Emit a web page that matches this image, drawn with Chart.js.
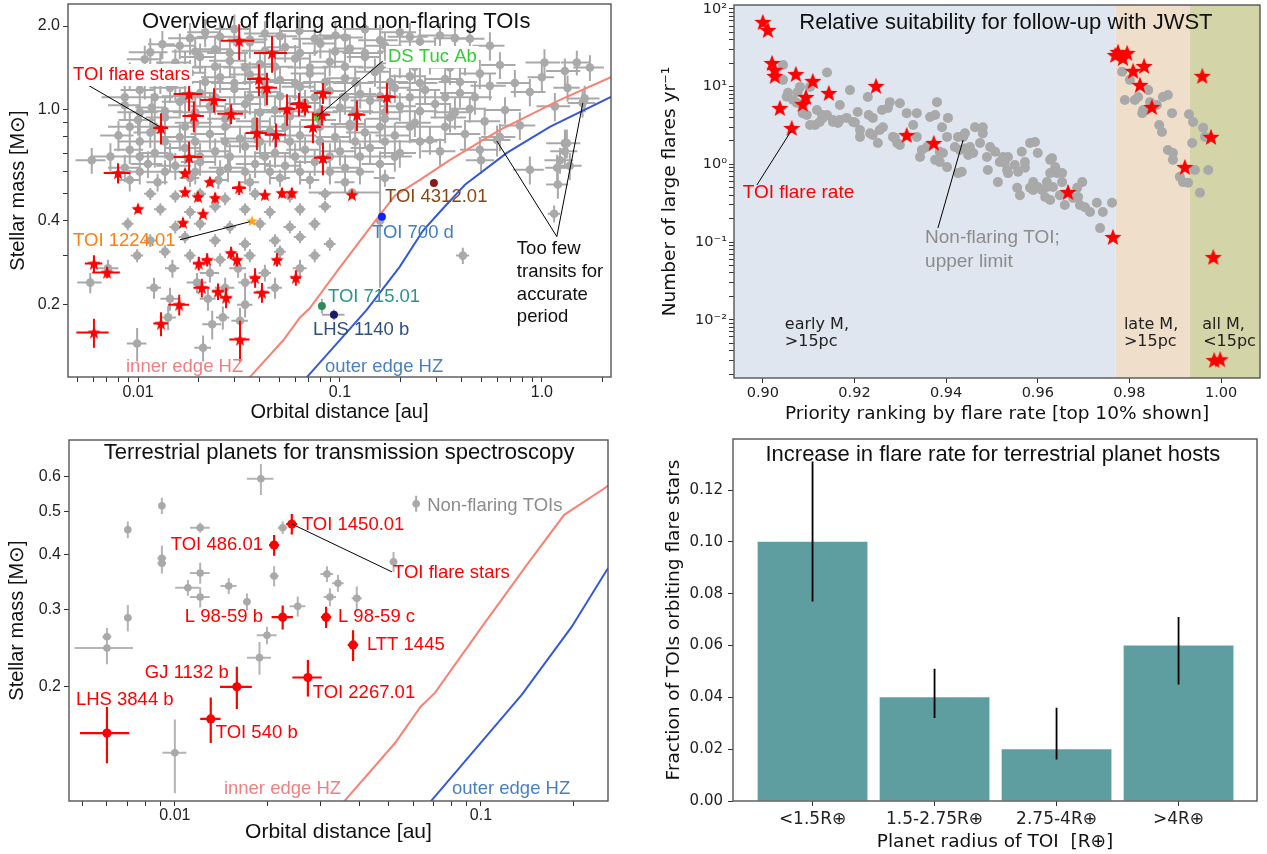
<!DOCTYPE html>
<html>
<head>
<meta charset="utf-8">
<title>TOI flare stars</title>
<script src="https://cdn.jsdelivr.net/npm/chart.js@4.4.1/dist/chart.umd.min.js"></script>
<style>
  body { margin: 0; background: #fff; }
  .panel { position: absolute; }
</style>
</head>
<body>
<canvas id="overview" class="panel" width="633" height="427" style="left:0;top:0"></canvas>
<canvas id="priority" class="panel" width="627" height="427" style="left:640px;top:0"></canvas>
<canvas id="terrestrial" class="panel" width="633" height="427" style="left:0;top:427px"></canvas>
<canvas id="fraction" class="panel" width="627" height="427" style="left:640px;top:427px"></canvas>
<script>
// ---- overview panel: [orbital distance au, stellar mass Msun, a err, M err]
const quietA = [
  [0.0215,1.90,0.004,0.22],[0.030,1.95,0.006,0.25],[0.0425,1.88,0.009,0.20],[0.063,1.92,0.012,0.24],[0.095,1.85,0.018,0.22],
  [0.133,1.95,0.03,0.25],[0.198,1.90,0.04,0.22],[0.313,1.85,0.07,0.2],[0.44,1.80,0.08,0.2],
  [0.0181,1.81,0.004,0.24],[0.0255,1.83,0.006,0.22],[0.0358,1.79,0.008,0.24],[0.0505,1.84,0.011,0.22],[0.075,1.80,0.017,0.24],
  [0.106,1.82,0.024,0.22],[0.158,1.78,0.035,0.24],[0.222,1.83,0.05,0.22],[0.371,1.81,0.08,0.22],
  [0.0132,1.72,0.002,0.2],[0.0161,1.70,0.003,0.18],[0.0241,1.65,0.005,0.2],[0.0358,1.75,0.007,0.22],[0.0535,1.68,0.01,0.2],
  [0.080,1.73,0.015,0.2],[0.112,1.66,0.02,0.18],[0.167,1.70,0.035,0.2],[0.249,1.76,0.05,0.2],[0.371,1.64,0.07,0.18],[0.553,1.70,0.1,0.2],
  [0.0115,1.61,0.0025,0.2],[0.0192,1.62,0.0045,0.21],[0.0285,1.60,0.0065,0.2],[0.0425,1.63,0.01,0.21],[0.0634,1.60,0.014,0.2],
  [0.0946,1.62,0.021,0.21],[0.133,1.60,0.03,0.2],[0.198,1.62,0.045,0.21],[0.296,1.61,0.065,0.2],
  [0.0108,1.52,0.002,0.18],[0.0153,1.48,0.003,0.17],[0.0203,1.55,0.004,0.18],[0.0285,1.50,0.006,0.2],[0.0402,1.46,0.008,0.17],
  [0.060,1.53,0.012,0.18],[0.089,1.49,0.018,0.17],[0.133,1.55,0.025,0.18],[0.198,1.47,0.04,0.17],[0.279,1.52,0.05,0.18],
  [0.416,1.50,0.08,0.17],[0.62,1.45,0.12,0.16],[1.03,1.48,0.2,0.17],[1.49,1.48,0.25,0.15],[1.73,1.42,0.3,0.15],
  [0.0129,1.43,0.003,0.19],[0.0171,1.42,0.004,0.19],[0.0241,1.43,0.0055,0.19],[0.0339,1.42,0.0075,0.19],[0.0477,1.43,0.011,0.19],
  [0.071,1.42,0.016,0.19],[0.106,1.43,0.024,0.19],[0.158,1.42,0.035,0.19],[0.235,1.43,0.05,0.19],[0.351,1.42,0.075,0.19],
  [0.0091,1.33,0.0015,0.15],[0.0129,1.30,0.0025,0.16],[0.0181,1.36,0.0035,0.15],[0.0255,1.31,0.005,0.16],[0.0358,1.34,0.007,0.15],
  [0.0505,1.28,0.01,0.15],[0.071,1.35,0.014,0.16],[0.106,1.30,0.02,0.15],[0.149,1.37,0.03,0.16],[0.222,1.32,0.045,0.15],
  [0.332,1.29,0.065,0.15],[0.493,1.35,0.1,0.16],[0.735,1.25,0.14,0.14],[1.0,1.31,0.15,0.14],[1.30,1.38,0.25,0.15],
  [0.0108,1.26,0.0025,0.17],[0.0153,1.25,0.0035,0.17],[0.0215,1.26,0.005,0.17],[0.030,1.25,0.007,0.17],[0.0425,1.26,0.0095,0.17],
  [0.060,1.25,0.013,0.17],[0.0844,1.26,0.019,0.17],[0.119,1.25,0.027,0.17],[0.177,1.26,0.04,0.17],[0.249,1.25,0.055,0.17],[0.393,1.26,0.085,0.17],
  [0.0102,1.18,0.002,0.14],[0.0144,1.20,0.003,0.14],[0.0203,1.15,0.004,0.13],[0.030,1.19,0.006,0.14],[0.0425,1.16,0.008,0.13],
  [0.0634,1.21,0.012,0.14],[0.089,1.17,0.018,0.13],[0.126,1.14,0.025,0.13],[0.187,1.20,0.035,0.14],[0.264,1.18,0.05,0.13],
  [0.393,1.15,0.08,0.13],[0.553,1.22,0.11,0.14],[0.872,1.16,0.17,0.13],[1.34,1.20,0.2,0.13],[1.63,1.10,0.3,0.12],
  [0.0086,1.11,0.002,0.15],[0.0121,1.11,0.0028,0.15],[0.0171,1.12,0.004,0.15],[0.0241,1.11,0.0055,0.15],[0.0358,1.11,0.008,0.15],
  [0.0505,1.12,0.011,0.15],[0.075,1.11,0.017,0.15],[0.106,1.11,0.024,0.15],[0.158,1.12,0.035,0.15],[0.222,1.11,0.05,0.15],
  [0.332,1.11,0.07,0.15],[0.466,1.11,0.1,0.15],
  [0.0086,1.04,0.0015,0.12],[0.0117,1.02,0.002,0.12],[0.0161,1.07,0.003,0.12],[0.0227,1.03,0.0045,0.12],[0.0339,1.05,0.007,0.12],
  [0.0477,1.00,0.01,0.11],[0.0672,1.06,0.013,0.12],[0.10,1.02,0.02,0.12],[0.141,1.08,0.028,0.12],[0.198,1.03,0.04,0.12],
  [0.296,1.05,0.06,0.12],[0.44,1.01,0.09,0.11],[0.657,1.00,0.13,0.11],[1.16,1.03,0.22,0.12],[1.59,1.06,0.25,0.12],
  [0.0102,0.98,0.0023,0.13],[0.0136,0.99,0.003,0.13],[0.0192,0.98,0.0043,0.13],[0.0285,0.99,0.0065,0.13],[0.0402,0.98,0.009,0.13],
  [0.0565,0.99,0.013,0.13],[0.0796,0.98,0.018,0.13],[0.119,0.99,0.027,0.13],[0.167,0.98,0.037,0.13],[0.249,0.99,0.055,0.13],[0.371,0.98,0.08,0.13],
  [0.010,0.92,0.002,0.11],[0.0136,0.94,0.0027,0.11],[0.0192,0.90,0.004,0.1],[0.027,0.93,0.005,0.11],[0.038,0.91,0.0075,0.1],
  [0.0565,0.95,0.011,0.11],[0.0796,0.92,0.016,0.1],[0.112,0.89,0.022,0.1],[0.167,0.93,0.033,0.11],[0.235,0.90,0.047,0.1],
  [0.351,0.94,0.07,0.11],[0.521,0.91,0.1,0.1],[0.778,0.88,0.15,0.1],
  [0.0091,0.87,0.002,0.11],[0.0121,0.87,0.0027,0.11],[0.0171,0.87,0.004,0.11],[0.027,0.87,0.006,0.11],[0.038,0.87,0.0085,0.11],
  [0.0535,0.87,0.012,0.11],[0.0796,0.87,0.018,0.11],[0.112,0.87,0.025,0.11],[0.158,0.87,0.035,0.11],[0.222,0.87,0.05,0.11],[0.332,0.87,0.07,0.11],
  [0.0080,0.81,0.0015,0.1],[0.0115,0.83,0.002,0.1],[0.0161,0.80,0.003,0.09],[0.0227,0.82,0.0045,0.1],[0.032,0.79,0.0065,0.09],
  [0.045,0.84,0.009,0.1],[0.0634,0.81,0.013,0.1],[0.0946,0.80,0.019,0.09],[0.133,0.83,0.026,0.1],[0.187,0.81,0.037,0.09],
  [0.279,0.78,0.055,0.09],[0.416,0.82,0.08,0.1],[0.62,0.80,0.12,0.09],[0.60,0.78,0.1,0.1],[1.30,0.76,0.25,0.09],[1.33,0.76,0.2,0.09],
  [0.0102,0.77,0.0023,0.1],[0.0136,0.77,0.003,0.1],[0.0192,0.77,0.0043,0.1],[0.027,0.77,0.006,0.1],[0.0402,0.77,0.009,0.1],
  [0.0565,0.77,0.013,0.1],[0.0796,0.77,0.018,0.1],[0.119,0.77,0.027,0.1],[0.167,0.77,0.037,0.1],[0.249,0.77,0.055,0.1],
  [0.0091,0.72,0.0015,0.08],[0.0121,0.70,0.002,0.08],[0.0171,0.73,0.0034,0.09],[0.0241,0.71,0.0048,0.08],[0.0339,0.74,0.0068,0.09],
  [0.0477,0.70,0.0095,0.08],[0.0672,0.72,0.013,0.08],[0.10,0.71,0.02,0.08],[0.141,0.73,0.028,0.09],[0.198,0.70,0.04,0.08],
  [0.313,0.71,0.06,0.08],[0.493,0.72,0.1,0.08],[1.23,0.66,0.2,0.07],[1.30,0.71,0.2,0.08],
  [0.0073,0.68,0.0015,0.08],[0.0102,0.68,0.002,0.08],[0.0144,0.68,0.003,0.08],[0.0203,0.68,0.0045,0.08],[0.0285,0.68,0.0065,0.08],
  [0.0425,0.68,0.0095,0.08],[0.060,0.68,0.013,0.08],[0.0892,0.68,0.02,0.08],[0.1256,0.68,0.028,0.08],[0.187,0.68,0.04,0.08],
  [0.0059,0.66,0.001,0.07],[0.0086,0.62,0.0015,0.07],[0.0112,0.64,0.002,0.07],[0.0153,0.63,0.003,0.07],[0.0203,0.65,0.004,0.07],
  [0.0279,0.62,0.0055,0.07],[0.038,0.64,0.0075,0.07],[0.0535,0.63,0.011,0.07],[0.075,0.65,0.015,0.07],[0.106,0.62,0.02,0.07],
  [0.158,0.64,0.03,0.07],[0.50,0.66,0.08,0.07],[0.872,0.61,0.15,0.07],[1.19,0.62,0.15,0.07],[1.375,0.63,0.2,0.07],
  [0.0102,0.60,0.0018,0.06],[0.0136,0.60,0.0025,0.06],[0.0192,0.60,0.0035,0.06],[0.0255,0.60,0.0045,0.06],[0.0339,0.60,0.006,0.06],
  [0.045,0.60,0.008,0.06],[0.0634,0.60,0.011,0.06],[0.0892,0.60,0.016,0.06],[0.1256,0.60,0.022,0.06],
  [0.0091,0.56,0.0012,0.05],[0.0125,0.55,0.0015,0.04],[0.0181,0.57,0.002,0.04],[0.025,0.56,0.003,0.04],[0.0358,0.55,0.004,0.04],
  [0.0505,0.57,0.006,0.04],[0.071,0.56,0.008,0.04],[0.106,0.55,0.012,0.04],[0.167,0.57,0.02,0.04],[1.20,0.54,0.15,0.06],
  [0.0115,0.50,0.0008,0.025],[0.0153,0.49,0.001,0.025],[0.0203,0.50,0.0014,0.025],[0.027,0.48,0.0018,0.025],[0.038,0.50,0.0025,0.025],
  [0.0565,0.49,0.004,0.025],[0.0844,0.50,0.006,0.025],[0.115,0.505,0.045,0.006],[0.158,0.40,0.006,0.17],
  [0.0129,0.44,0.0009,0.022],[0.0181,0.43,0.0012,0.022],[0.0241,0.45,0.0016,0.022],[0.0339,0.44,0.0022,0.022],[0.045,0.43,0.003,0.022],
  [0.0634,0.44,0.004,0.022],[0.0844,0.45,0.006,0.022],[1.15,0.424,0.08,0.03],
  [0.0089,0.39,0.0006,0.02],[0.0153,0.38,0.001,0.02],[0.0203,0.39,0.0014,0.02],[0.0285,0.38,0.002,0.02],[0.0402,0.39,0.0027,0.02],
  [0.0565,0.38,0.004,0.02],[0.075,0.39,0.005,0.02],
  [0.0115,0.34,0.0008,0.018],[0.0171,0.35,0.0012,0.018],[0.0241,0.34,0.0016,0.018],[0.0339,0.33,0.0023,0.018],[0.0477,0.34,0.0032,0.018],
  [0.0634,0.35,0.0043,0.018],[0.0892,0.33,0.006,0.018],
  [0.0099,0.30,0.0007,0.016],[0.0136,0.31,0.0009,0.016],[0.0181,0.30,0.0012,0.016],[0.0255,0.29,0.0017,0.016],[0.0358,0.30,0.0024,0.016],
  [0.0505,0.31,0.0034,0.016],[0.075,0.30,0.005,0.016],[0.406,0.30,0.03,0.02],
  [0.0071,0.27,0.0009,0.02],[0.0148,0.27,0.0012,0.02],[0.0227,0.26,0.0025,0.02],[0.0313,0.27,0.003,0.02],[0.0425,0.26,0.003,0.018],[0.0634,0.27,0.005,0.02],
  [0.0058,0.24,0.0008,0.02],[0.0120,0.23,0.001,0.02],[0.0196,0.24,0.0022,0.02],[0.027,0.23,0.003,0.02],[0.0339,0.24,0.0025,0.02],[0.0477,0.23,0.004,0.02],
  [0.0144,0.21,0.0015,0.02],[0.0222,0.21,0.002,0.02],[0.0339,0.20,0.003,0.02],
  [0.0141,0.18,0.0013,0.018],[0.0233,0.17,0.0025,0.02],[0.0263,0.18,0.002,0.017],[0.032,0.175,0.003,0.02],
  [0.0099,0.145,0.0011,0.02],[0.021,0.14,0.002,0.015]
];
const flareA = [
  [0.0317,1.77,0.006,0.26],[0.0461,1.60,0.0086,0.24],[0.0397,1.29,0.005,0.17],[0.0435,1.20,0.0053,0.16],[0.0179,1.14,0.0029,0.15],
  [0.0238,1.086,0.0035,0.11],[0.0189,0.952,0.0023,0.12],[0.0289,0.968,0.0042,0.08],[0.0130,0.862,0.0011,0.11],[0.0388,0.827,0.0047,0.11],
  [0.0482,0.814,0.0058,0.08],[0.0547,1.008,0.0052,0.13],[0.0627,1.05,0.006,0.1],[0.0735,0.869,0.007,0.11],[0.0179,0.678,0.0029,0.09],
  [0.00796,0.594,0.0012,0.05],[0.0171,0.594,0.0008,0.02],[0.0227,0.552,0.001,0.02],[0.0171,0.508,0.0008,0.02],[0.0198,0.488,0.0009,0.02],
  [0.0241,0.484,0.001,0.02],[0.0317,0.525,0.0025,0.03],[0.0425,0.496,0.0018,0.02],[0.0516,0.504,0.002,0.02],[0.0578,0.504,0.002,0.02],
  [0.0824,1.15,0.008,0.1],[0.0671,1.025,0.005,0.07],[0.0814,0.96,0.008,0.08],[0.1214,0.96,0.012,0.12],[0.171,1.113,0.018,0.14],
  [0.0824,0.673,0.008,0.09],[0.1147,0.496,0.003,0.01],[0.0100,0.442,0.0005,0.015],[0.0167,0.394,0.0007,0.015],[0.0210,0.424,0.0008,0.015],
  [0.00605,0.281,0.0006,0.02],[0.00703,0.261,0.0011,0.012],[0.0200,0.281,0.0013,0.016],[0.0220,0.290,0.0013,0.016],[0.0289,0.307,0.0015,0.016],
  [0.0309,0.290,0.0015,0.016],[0.0488,0.290,0.0025,0.016],[0.0380,0.250,0.0022,0.02],[0.0605,0.250,0.0035,0.016],[0.0207,0.230,0.0019,0.018],
  [0.0249,0.223,0.0017,0.015],[0.0273,0.212,0.0018,0.018],[0.0411,0.221,0.0037,0.018],[0.0160,0.200,0.0019,0.017],[0.0130,0.171,0.0011,0.017],
  [0.00605,0.159,0.0011,0.019],[0.0320,0.150,0.0037,0.025]
];
// DS Tuc Ab, TOI 1224.01, TOI 4312.01, TOI 700 d, TOI 715.01, LHS 1140 b
const namedA = [[0.0769,0.944,0,0],[0.0367,0.40,0,0],[0.292,0.547,0,0],[0.1614,0.414,0,0],[0.0814,0.198,0.003,0.012],[0.0934,0.184,0.012,0.008]];
// habitable zone edges: [a au, M Msun]
const innerHZ = [[0.033,0.100],[0.0358,0.110],[0.0524,0.149],[0.0634,0.180],[0.0708,0.194],[0.100,0.272],[0.141,0.378],[0.187,0.492],[0.249,0.561],[0.351,0.662],[0.62,0.848],[1.23,1.086],[2.4,1.35]];
const outerHZ = [[0.063,0.100],[0.0687,0.110],[0.136,0.192],[0.198,0.274],[0.258,0.369],[0.313,0.431],[0.416,0.539],[0.671,0.701],[1.095,0.869],[2.4,1.15]];
const distTicksA = [0.005,0.006,0.007,0.008,0.009,0.01,0.02,0.03,0.04,0.05,0.06,0.07,0.08,0.09,0.1,0.2,0.3,0.4,0.5,0.6,0.7,0.8,0.9,1,2];
const distLabelsA = {0.01: '0.01', 0.1: '0.1', 1: '1.0'};
const massTicksA = [0.2,0.3,0.4,0.5,0.6,0.7,0.8,0.9,1,2];
const massLabelsA = {0.2: '0.2', 0.4: '0.4', 1: '1.0', 2: '2.0'};

// ---- priority panel: [priority ranking, large flares per yr]
const quietRank = [
  [0.9044,18.9],[0.9044,12.2],[0.9055,8.3],[0.9052,7.4],[0.9066,6.7],[0.9076,8.5],[0.9081,9.9],[0.9074,6.2],[0.9087,4.55],[0.9096,4.3],
  [0.9103,9.9],[0.9118,5.0],[0.9114,3.2],[0.9131,3.95],[0.9129,4.3],[0.9140,4.3],[0.9140,15.2],[0.9103,3.2],[0.9124,3.5],[0.9153,3.5],
  [0.9153,3.72],[0.9168,3.72],[0.9168,5.8],[0.9190,9.0],[0.9183,3.95],[0.9164,3.4],[0.9197,3.5],[0.9201,3.45],[0.9207,4.7],[0.9212,2.25],
  [0.9212,2.76],[0.9234,2.5],[0.9240,2.38],[0.9231,4.3],[0.9240,3.95],[0.9229,7.35],[0.9251,1.88],[0.9255,2.76],[0.9260,5.0],[0.9273,5.3],
  [0.9277,6.3],[0.9262,3.0],[0.9299,6.1],[0.9284,2.25],[0.9299,1.77],[0.9314,4.55],[0.9336,4.55],[0.9328,3.2],[0.9288,2.2],[0.9293,1.88],
  [0.9336,2.25],[0.9347,1.53],[0.9343,1.24],[0.9358,1.67],[0.9380,6.3],[0.9365,4.05],[0.9376,4.3],[0.9391,3.0],[0.9386,1.45],[0.9376,1.14],
  [0.9402,2.25],[0.9393,1.4],[0.9386,1.07],[0.9402,0.92],[0.9404,3.95],[0.9419,1.67],[0.9426,0.77],[0.9426,2.25],[0.9437,2.25],[0.9441,1.6],
  [0.9459,1.4],[0.9463,3.0],[0.9480,3.0],[0.9480,2.5],[0.9441,2.5],[0.9452,1.67],[0.9474,1.88],[0.9496,1.67],[0.9430,1.53],[0.9448,1.32],
  [0.9489,1.24],[0.9507,1.45],[0.9517,1.07],[0.9524,1.24],[0.9535,1.24],[0.9550,0.98],[0.9565,1.45],[0.9572,1.07],[0.9583,1.88],[0.9594,1.94],
  [0.9600,1.40],[0.9533,0.845],[0.9528,1.04],[0.9491,0.845],[0.9434,0.80],[0.9513,0.59],[0.9535,0.77],[0.9557,0.80],[0.9572,0.90],[0.9590,0.59],
  [0.9627,1.14],[0.9631,1.20],[0.9638,0.92],[0.9653,0.77],[0.9642,0.77],[0.9627,0.77],[0.9620,0.59],[0.9653,0.59],[0.9697,0.59],[0.9600,0.51],
  [0.9555,0.50],[0.9583,0.50],[0.9633,0.51],[0.9620,0.51],[0.9686,0.50],[0.9561,0.40],[0.9590,0.467],[0.9609,0.467],[0.9627,0.347],[0.9677,0.37],
  [0.9688,0.38],[0.9703,0.28],[0.9714,0.243],[0.9729,0.32],[0.9742,0.243],[0.9762,0.32],[0.9736,0.151],[0.9659,0.30],[0.9648,0.40],[0.9692,0.30],
  [0.9616,0.38],
  [0.9784,15.5],[0.9801,12.2],[0.9841,9.0],[0.9790,6.7],[0.9812,6.7],[0.9819,7.35],[0.9830,5.0],[0.9845,6.3],[0.9873,7.35],[0.9884,7.8],
  [0.9860,5.8],[0.9828,4.55],[0.9865,3.2],[0.9871,2.6],[0.9893,4.55],[0.9930,4.4],[0.9939,3.5],[0.9961,2.95],[0.9965,2.25],[0.9937,1.88],
  [0.9884,1.53],[0.9895,1.40],[0.9895,1.14],[0.9910,0.69],[0.9917,0.59],[0.9928,0.58],[0.9943,0.845],[0.9972,0.845],[0.9954,0.43]
];
const flareRank = [
  [0.9000,67.8],[0.9011,53.5],[0.9020,20.1],[0.9026,16.4],[0.9026,13.7],[0.9037,5.30],[0.9072,14.5],[0.9109,11.8],[0.9144,8.27],[0.9094,7.35],
  [0.9087,5.97],[0.9063,2.93],[0.9247,10.2],[0.9314,2.38],[0.9373,1.88],[0.9769,25.5],[0.9775,27.9],[0.9795,27.1],[0.9786,23.3],[0.9832,18.4],
  [0.9808,15.9],[0.9823,10.5],[0.9849,5.46],[0.9959,13.7],[0.9978,2.25],[0.9921,0.923],[0.9666,0.44],[0.9764,0.116],[0.9983,0.0641],
  [0.9985,0.00303],[0.9998,0.0031]
];
const typeEdges = [0.977, 0.9932];   // early M >15pc | late M >15pc | all M <15pc
const rankTicks = [0.9,0.92,0.94,0.96,0.98,1];
const rankLabels = {0.9: '0.90', 0.92: '0.92', 0.94: '0.94', 0.96: '0.96', 0.98: '0.98', 1: '1.00'};
const rateTicks = [0.002,0.003,0.004,0.005,0.006,0.007,0.008,0.009,0.01,0.02,0.03,0.04,0.05,0.06,0.07,0.08,0.09,
  0.1,0.2,0.3,0.4,0.5,0.6,0.7,0.8,0.9,1,2,3,4,5,6,7,8,9,10,20,30,40,50,60,70,80,90,100];
const rateLabels = {0.01: '10\u207B\u00B2', 0.1: '10\u207B\u00B9', 1: '10\u2070', 10: '10\u00B9', 100: '10\u00B2'};

// ---- terrestrial panel: [a au, M Msun, a err, M err]
const quietC = [
  [0.0191,0.594,0.0019,0.048],[0.00907,0.516,0.0002,0.022],[0.00702,0.455,0.00015,0.02],[0.00907,0.392,0.0003,0.027],[0.00907,0.382,0.0003,0.02],
  [0.0121,0.46,0.0009,0.012],[0.0225,0.46,0.0008,0.015],[0.0121,0.363,0.0009,0.02],[0.0211,0.357,0.0007,0.019],[0.01103,0.336,0.001,0.014],
  [0.015,0.339,0.0009,0.014],[0.0121,0.32,0.0009,0.017],[0.0172,0.312,0.0005,0.014],[0.0252,0.305,0.0015,0.016],[0.00702,0.287,0.0002,0.02],
  [0.006,0.26,0.0002,0.012],[0.006,0.245,0.0013,0.02],[0.020,0.262,0.0015,0.012],[0.0189,0.233,0.0017,0.02],[0.010,0.1416,0.0009,0.027],
  [0.0518,0.385,0.0015,0.02],[0.0314,0.361,0.0015,0.015],[0.0341,0.344,0.0015,0.015],[0.0321,0.32,0.0015,0.015],[0.0393,0.318,0.0015,0.02]
];
// TOI 1450.01, TOI 486.01, L 98-59 b, L 98-59 c, LTT 1445, GJ 1132 b, TOI 2267.01, TOI 540 b, LHS 3844 b
const flareC = [
  [0.0241,0.469,0.001,0.025],[0.0211,0.42,0.0008,0.023],[0.0225,0.288,0.0018,0.018],[0.0312,0.288,0.0012,0.016],[0.0382,0.249,0.0015,0.02],
  [0.01594,0.2,0.0019,0.022],[0.0272,0.21,0.003,0.02],[0.0131,0.169,0.001,0.02],[0.006,0.157,0.0011,0.023]
];
const distTicksC = [0.005,0.006,0.007,0.008,0.009,0.01,0.02,0.03,0.04,0.05,0.06,0.07,0.08,0.09,0.1,0.2];
const distLabelsC = {0.01: '0.01', 0.1: '0.1'};
const massTicksC = [0.2,0.3,0.4,0.5,0.6];
const massLabelsC = {0.2: '0.2', 0.3: '0.3', 0.4: '0.4', 0.5: '0.5', 0.6: '0.6'};

// ---- fraction panel
const radiusBins = ['<1.5R\u2295', '1.5-2.75R\u2295', '2.75-4R\u2295', '>4R\u2295'];
const flareFraction = [0.10, 0.04, 0.02, 0.06];
const fractionLow = [0.077, 0.032, 0.016, 0.045];
const fractionHigh = [0.131, 0.051, 0.036, 0.071];
const fracTicks = [0, 0.02, 0.04, 0.06, 0.08, 0.1, 0.12];
const fracLabels = {0: '0.00', 0.02: '0.02', 0.04: '0.04', 0.06: '0.06', 0.08: '0.08', 0.1: '0.10', 0.12: '0.12'};

const GRAY = '#a9a9a9';
const ARIAL = '"Liberation Sans", Arial, sans-serif';
const DEJAVU = '"DejaVu Sans", sans-serif';
Chart.defaults.font.family = ARIAL;
Chart.defaults.color = '#222';

function starImage(size, color) {
  const c = document.createElement('canvas');
  c.width = c.height = size;
  const g = c.getContext('2d');
  const r = size / 2;
  g.beginPath();
  for (let i = 0; i < 10; i++) {
    const ang = -Math.PI / 2 + i * Math.PI / 5;
    const rr = i % 2 ? r * 0.42 : r;
    g.lineTo(r + rr * Math.cos(ang), r * 1.08 + rr * Math.sin(ang));
  }
  g.closePath();
  g.fillStyle = color;
  g.fill();
  return c;
}

const points = rows => rows.map(r => ({ x: r[0], y: r[1] }));
const errs = rows => rows.map(r => [r[2] || 0, r[3] || 0]);

const errorBars = {
  id: 'errorBars',
  beforeDatasetDraw(chart, args) {
    const ds = chart.data.datasets[args.index];
    if (!ds.errors) return;
    const { ctx, chartArea: a, scales: { x, y } } = chart;
    ctx.save();
    ctx.beginPath();
    ctx.rect(a.left, a.top, a.width, a.height);
    ctx.clip();
    ctx.strokeStyle = ds.errorColor;
    ctx.lineWidth = ds.errorWidth;
    ctx.beginPath();
    ds.data.forEach((p, i) => {
      const [dx, dy] = ds.errors[i];
      const px = x.getPixelForValue(p.x), py = y.getPixelForValue(p.y);
      if (dx) {
        ctx.moveTo(x.getPixelForValue(Math.max(p.x - dx, p.x * 0.05)), py);
        ctx.lineTo(x.getPixelForValue(p.x + dx), py);
      }
      if (dy) {
        ctx.moveTo(px, y.getPixelForValue(Math.max(p.y - dy, p.y * 0.05)));
        ctx.lineTo(px, y.getPixelForValue(p.y + dy));
      }
    });
    ctx.stroke();
    ctx.restore();
  },
  afterDatasetDraw(chart, args) {
    const ds = chart.data.datasets[args.index];
    if (!ds.errorRange) return;
    const { ctx, scales: { x, y } } = chart;
    ctx.save();
    ctx.strokeStyle = '#000';
    ctx.lineWidth = 1.8;
    ctx.beginPath();
    ds.data.forEach((p, i) => {
      const px = x.getPixelForValue(p.x);
      ctx.moveTo(px, y.getPixelForValue(ds.errorRange[i][0]));
      ctx.lineTo(px, y.getPixelForValue(ds.errorRange[i][1]));
    });
    ctx.stroke();
    ctx.restore();
  }
};

function bandsPlugin(edges, colors) {
  return {
    id: 'bands',
    beforeDatasetsDraw(chart) {
      const { ctx, chartArea: a, scales: { x } } = chart;
      const bounds = [x.min, ...edges, x.max];
      ctx.save();
      colors.forEach((c, i) => {
        const l = x.getPixelForValue(bounds[i]), r = x.getPixelForValue(bounds[i + 1]);
        ctx.fillStyle = c;
        ctx.fillRect(l, a.top, r - l, a.height);
      });
      ctx.restore();
    }
  };
}

function notesPlugin(cfg) {
  return {
    id: 'notes',
    afterDatasetsDraw(chart) {
      const { ctx, chartArea: a, scales: { x, y } } = chart;
      ctx.save();
      ctx.strokeStyle = '#555';
      ctx.lineWidth = 1.4;
      ctx.strokeRect(a.left, a.top, a.width, a.height);
      ctx.strokeStyle = '#000';
      ctx.lineWidth = 1;
      (cfg.pointers || []).forEach(p => {
        ctx.beginPath();
        ctx.moveTo(x.getPixelForValue(p[0]), y.getPixelForValue(p[1]));
        ctx.lineTo(x.getPixelForValue(p[2]), y.getPixelForValue(p[3]));
        ctx.stroke();
      });
      ctx.textBaseline = 'middle';
      (cfg.labels || []).forEach(t => {
        const px = x.getPixelForValue(t.x), py = y.getPixelForValue(t.y);
        ctx.font = t.font || cfg.labelFont;
        ctx.textAlign = t.align || 'left';
        if (t.box) {
          const w = ctx.measureText(t.text).width;
          ctx.fillStyle = '#fff';
          ctx.fillRect(px - 2, py - 11, w + 4, 22);
        }
        if (t.marker) {
          ctx.strokeStyle = GRAY;
          ctx.lineWidth = 2;
          ctx.beginPath();
          ctx.moveTo(px - 11, py - 10);
          ctx.lineTo(px - 11, py + 6);
          ctx.stroke();
          ctx.fillStyle = GRAY;
          ctx.beginPath();
          ctx.arc(px - 11, py - 2, 3.8, 0, Math.PI * 2);
          ctx.fill();
        }
        ctx.fillStyle = t.color;
        ctx.fillText(t.text, px, py);
      });
      ctx.fillStyle = '#111';
      ctx.font = cfg.titleFont;
      ctx.textAlign = 'center';
      ctx.fillText(cfg.title, a.left + cfg.titleAt[0] * a.width, a.top + cfg.titleAt[1]);
      ctx.restore();
    }
  };
}

function axis(o) {
  return {
    type: o.type,
    min: o.min,
    max: o.max,
    offset: false,
    border: { display: false },
    grid: { drawOnChartArea: false, drawTicks: true, tickLength: 5, tickColor: '#333', offset: false },
    afterBuildTicks: s => { s.ticks = o.ticks.map(v => ({ value: v })); },
    afterFit: s => {
      if (o.horizontal) s.height = o.size; else s.width = o.size;
      s.paddingLeft = s.paddingRight = s.paddingTop = s.paddingBottom = 0;
    },
    ticks: {
      autoSkip: false, maxRotation: 0, minRotation: 0, padding: o.pad, color: '#222',
      font: o.font, callback: v => (o.labels[v] !== undefined ? o.labels[v] : '')
    },
    title: { display: true, text: o.title, color: '#111', font: o.titleFont, padding: o.titlePad }
  };
}

function baseOptions(padding, scales) {
  return {
    responsive: false,
    animation: false,
    events: [],
    layout: { autoPadding: false, padding },
    plugins: { legend: { display: false }, tooltip: { enabled: false } },
    scales
  };
}

// ---------------- Overview of flaring and non-flaring TOIs
new Chart(document.getElementById('overview'), {
  type: 'scatter',
  data: {
    datasets: [
      { data: points(flareA), errors: errs(flareA), errorColor: 'red', errorWidth: 2,
        pointStyle: starImage(14, 'red'), order: 0 },
      { data: points(namedA), errors: errs(namedA), errorColor: GRAY, errorWidth: 2,
        pointStyle: [starImage(12, '#3ddc3d'), starImage(12, '#ffa31a'), 'circle', 'circle', 'circle', 'circle'],
        pointRadius: 4, pointBorderWidth: 0,
        pointBackgroundColor: ['#3ddc3d', '#ffa31a', '#8b1a1a', '#1020ff', '#2e8b57', '#191970'], order: 0 },
      { data: points(innerHZ), showLine: true, pointRadius: 0, borderColor: '#fa8072', borderWidth: 2, order: 1 },
      { data: points(outerHZ), showLine: true, pointRadius: 0, borderColor: '#3558d8', borderWidth: 2, order: 1 },
      { data: points(quietA), errors: errs(quietA), errorColor: GRAY, errorWidth: 2,
        pointRadius: 4.3, pointBorderWidth: 0, pointBackgroundColor: GRAY, order: 2 }
    ]
  },
  options: baseOptions({ top: 4, right: 22, left: 0, bottom: 0 }, {
    x: axis({ type: 'logarithmic', min: 0.0045, max: 2.2, ticks: distTicksA, labels: distLabelsA, horizontal: true,
      size: 50, pad: 1, font: { size: 16 }, title: 'Orbital distance [au]', titleFont: { size: 20 }, titlePad: { top: 0, bottom: 3 } }),
    y: axis({ type: 'logarithmic', min: 0.11, max: 2.4, ticks: massTicksA, labels: massLabelsA,
      size: 68, pad: 3, font: { size: 16 }, title: 'Stellar mass [M\u2299]', titleFont: { size: 20 }, titlePad: { top: 6, bottom: 0 } })
  }),
  plugins: [errorBars, notesPlugin({
    title: 'Overview of flaring and non-flaring TOIs', titleFont: '22px ' + ARIAL, titleAt: [0.494, 18],
    labelFont: '18.5px ' + ARIAL,
    pointers: [[0.00553, 1.239, 0.01285, 0.869], [0.163, 1.498, 0.0769, 0.944], [0.01614, 0.342, 0.0358, 0.397],
      [1.186, 0.351, 0.598, 0.774], [1.186, 0.351, 1.596, 1.06]],
    labels: [
      { text: 'TOI flare stars', x: 0.00477, y: 1.335, color: 'red', box: true },
      { text: 'DS Tuc Ab', x: 0.173, y: 1.549, color: '#32cd32', box: true },
      { text: 'TOI 1224.01', x: 0.00477, y: 0.339, color: '#ff7f0e' },
      { text: 'TOI 4312.01', x: 0.167, y: 0.488, color: '#8b4513' },
      { text: 'TOI 700 d', x: 0.144, y: 0.362, color: '#3f7fbf' },
      { text: 'TOI 715.01', x: 0.0872, y: 0.214, color: '#2a958a' },
      { text: 'LHS 1140 b', x: 0.0735, y: 0.163, color: '#2f4f7f' },
      { text: 'Too few', x: 0.752, y: 0.318, color: '#111' },
      { text: 'transits for', x: 0.752, y: 0.263, color: '#111' },
      { text: 'accurate', x: 0.752, y: 0.217, color: '#111' },
      { text: 'period', x: 0.752, y: 0.181, color: '#111' },
      { text: 'inner edge HZ', x: 0.00872, y: 0.12, color: '#f08080' },
      { text: 'outer edge HZ', x: 0.0843, y: 0.12, color: '#4a7fc0' }
    ]
  })]
});

// ---------------- Relative suitability for follow-up with JWST
new Chart(document.getElementById('priority'), {
  type: 'scatter',
  data: {
    datasets: [
      { data: points(flareRank), pointStyle: starImage(18, 'red'), order: 0 },
      { data: points(quietRank), pointRadius: 5, pointBorderWidth: 0, pointBackgroundColor: GRAY, order: 1 }
    ]
  },
  options: baseOptions({ top: 5, right: 7, left: 0, bottom: 0 }, {
    x: axis({ type: 'linear', min: 0.8937, max: 1.0085, ticks: rankTicks, labels: rankLabels, horizontal: true,
      size: 49, pad: 2, font: { family: DEJAVU, size: 14.5 }, title: 'Priority ranking by flare rate [top 10% shown]',
      titleFont: { family: DEJAVU, size: 18.5 }, titlePad: { top: 0, bottom: 2 } }),
    y: axis({ type: 'logarithmic', min: 0.00178, max: 112, ticks: rateTicks, labels: rateLabels,
      size: 94, pad: 2, font: { family: DEJAVU, size: 14.5 }, title: 'Number of large flares yr\u207B\u00B9',
      titleFont: { family: DEJAVU, size: 18.5 }, titlePad: { top: 19, bottom: 0 } })
  }),
  plugins: [errorBars, bandsPlugin(typeEdges, ['#dfe6ef', '#efdfca', '#d3d4a7']), notesPlugin({
    title: 'Relative suitability for follow-up with JWST', titleFont: '22px ' + ARIAL, titleAt: [0.517, 18],
    labelFont: '19px ' + ARIAL,
    pointers: [[0.8987, 0.542, 0.9063, 2.76], [0.9382, 0.151, 0.9437, 2.05]],
    labels: [
      { text: 'TOI flare rate', x: 0.8956, y: 0.427, color: 'red' },
      { text: 'Non-flaring TOI;', x: 0.9354, y: 0.1125, color: '#8c8c8c' },
      { text: 'upper limit', x: 0.9354, y: 0.0553, color: '#8c8c8c' },
      { text: 'early M,', x: 0.9048, y: 0.00855, color: '#222', font: '16px ' + DEJAVU },
      { text: '>15pc', x: 0.9048, y: 0.00516, color: '#222', font: '16px ' + DEJAVU },
      { text: 'late M,', x: 0.9788, y: 0.00855, color: '#222', font: '16px ' + DEJAVU },
      { text: '>15pc', x: 0.9788, y: 0.00516, color: '#222', font: '16px ' + DEJAVU },
      { text: 'all M,', x: 0.9959, y: 0.00855, color: '#222', font: '16px ' + DEJAVU },
      { text: '<15pc', x: 0.9961, y: 0.00516, color: '#222', font: '16px ' + DEJAVU }
    ]
  })]
});

// ---------------- Terrestrial planets for transmission spectroscopy
new Chart(document.getElementById('terrestrial'), {
  type: 'scatter',
  data: {
    datasets: [
      { data: points(flareC), errors: errs(flareC), errorColor: 'red', errorWidth: 2.2,
        pointRadius: 4.6, pointBorderWidth: 0, pointBackgroundColor: 'red', order: 0 },
      { data: points(innerHZ), showLine: true, pointRadius: 0, borderColor: '#fa8072', borderWidth: 2, order: 1 },
      { data: points(outerHZ), showLine: true, pointRadius: 0, borderColor: '#3558d8', borderWidth: 2, order: 1 },
      { data: points(quietC), errors: errs(quietC), errorColor: '#b4b4b4', errorWidth: 2,
        pointRadius: 3.8, pointBorderWidth: 0, pointBackgroundColor: GRAY, order: 2 }
    ]
  },
  options: baseOptions({ top: 13, right: 25, left: 0, bottom: 0 }, {
    x: axis({ type: 'logarithmic', min: 0.00451, max: 0.26, ticks: distTicksC, labels: distLabelsC, horizontal: true,
      size: 53, pad: 0, font: { size: 16 }, title: 'Orbital distance [au]', titleFont: { size: 21 }, titlePad: { top: 0, bottom: 9 } }),
    y: axis({ type: 'logarithmic', min: 0.11, max: 0.728, ticks: massTicksC, labels: massLabelsC,
      size: 69, pad: 3, font: { size: 16 }, title: 'Stellar mass [M\u2299]', titleFont: { size: 20 }, titlePad: { top: 5, bottom: 0 } })
  }),
  plugins: [errorBars, notesPlugin({
    title: 'Terrestrial planets for transmission spectroscopy', titleFont: '22px ' + ARIAL, titleAt: [0.501, 13],
    labelFont: '18.5px ' + ARIAL,
    pointers: [[0.0512, 0.365, 0.0241, 0.469]],
    labels: [
      { text: 'TOI 1450.01', x: 0.026, y: 0.467, color: 'red' },
      { text: 'TOI 486.01', x: 0.0194, y: 0.421, color: 'red', align: 'right' },
      { text: 'L 98-59 b', x: 0.0194, y: 0.288, color: 'red', align: 'right' },
      { text: 'L 98-59 c', x: 0.0341, y: 0.288, color: 'red' },
      { text: 'LTT 1445', x: 0.0424, y: 0.249, color: 'red' },
      { text: 'GJ 1132 b', x: 0.00798, y: 0.2155, color: 'red' },
      { text: 'TOI 2267.01', x: 0.0282, y: 0.194, color: 'red' },
      { text: 'TOI 540 b', x: 0.0136, y: 0.157, color: 'red' },
      { text: 'LHS 3844 b', x: 0.00475, y: 0.187, color: 'red' },
      { text: 'TOI flare stars', x: 0.0516, y: 0.363, color: 'red' },
      { text: 'Non-flaring TOIs', x: 0.0667, y: 0.516, color: '#8c8c8c', marker: true },
      { text: 'inner edge HZ', x: 0.01446, y: 0.1173, color: '#f08080' },
      { text: 'outer edge HZ', x: 0.0804, y: 0.1173, color: '#4a7fc0' }
    ]
  })]
});

// ---------------- Increase in flare rate for terrestrial planet hosts
new Chart(document.getElementById('fraction'), {
  type: 'bar',
  data: {
    datasets: [{
      data: flareFraction.map((v, i) => ({ x: i, y: v })),
      errorRange: fractionLow.map((lo, i) => [lo, fractionHigh[i]]),
      backgroundColor: '#5f9ea0', borderWidth: 0, barPercentage: 0.9, categoryPercentage: 1
    }]
  },
  options: baseOptions({ top: 12, right: 10, left: 0, bottom: 0 }, {
    x: axis({ type: 'linear', min: -0.652, max: 3.643, ticks: [0, 1, 2, 3], labels: radiusBins, horizontal: true,
      size: 53, pad: 3, font: { family: DEJAVU, size: 17 }, title: 'Planet radius of TOI  [R\u2295]',
      titleFont: { family: DEJAVU, size: 18.5 }, titlePad: { top: 0, bottom: 1 } }),
    y: axis({ type: 'linear', min: 0, max: 0.1397, ticks: fracTicks, labels: fracLabels,
      size: 93, pad: 5, font: { family: DEJAVU, size: 15 }, title: 'Fraction of TOIs orbiting flare stars',
      titleFont: { family: DEJAVU, size: 18.5 }, titlePad: { top: 23, bottom: 0 } })
  }),
  plugins: [errorBars, notesPlugin({
    title: 'Increase in flare rate for terrestrial planet hosts', titleFont: '22px ' + ARIAL, titleAt: [0.496, 16],
    labelFont: '18px ' + ARIAL
  })]
});
</script>
</body>
</html>
